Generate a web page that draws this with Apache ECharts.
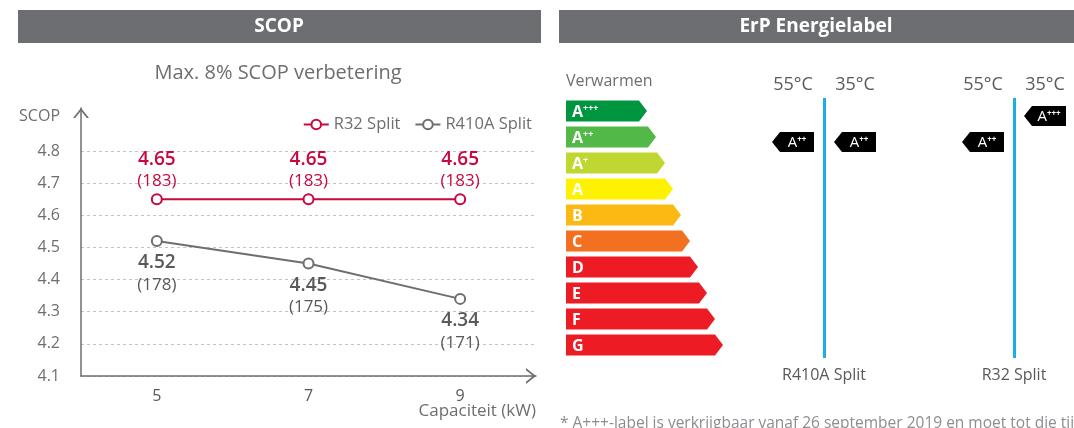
<!DOCTYPE html>
<html>
<head>
<meta charset="utf-8">
<script src="https://cdn.jsdelivr.net/npm/echarts@6/dist/echarts.min.js"></script>
<style>
  html, body { margin: 0; padding: 0; background: #fff; }
  #chart { width: 1074px; height: 428px; }
</style>
</head>
<body>
<div id="chart"></div>
<script>
// SCOP chart data
const capacities = ['5', '7', '9'];
const scopR32 = [4.65, 4.65, 4.65];
const etaR32 = [183, 183, 183];
const scopR410A = [4.52, 4.45, 4.34];
const etaR410A = [178, 175, 171];
const scopTicks = [4.1, 4.2, 4.3, 4.4, 4.5, 4.6, 4.7, 4.8];

// energy label data
const energyClasses = ['A+++', 'A++', 'A+', 'A', 'B', 'C', 'D', 'E', 'F', 'G'];
const arrowLengths = [81, 90, 99, 107, 115, 124, 132, 141, 149, 157];
const products = ['R410A Split', 'R32 Split'];
const temps = ['55°C', '35°C'];
const ratingR410A = ['A++', 'A++'];
const ratingR32 = ['A++', 'A+++'];

const classColors = ['#009640', '#52b848', '#bfd730', '#fff200', '#fdb913',
  '#f37021', '#ed1c24', '#ed1c24', '#ed1c24', '#ed1c24'];

const FONT = '"Open Sans", "Noto Sans", sans-serif';
const GRAY = '#6d6e71';
const DARK = '#58595b';
const RED = '#c8083e';
const BLUE = '#1aaee6';
const CHEVRON = 'path://M8,0 L16,10 L13.8,10 L8,2.8 L2.2,10 L0,10 Z';

const chart = echarts.init(document.getElementById('chart'));

const classText = c => c.length > 1 ? '{a|' + c[0] + '}{s|' + c.slice(1) + '}' : '{a|' + c + '}';

const tagData = [];
[ratingR410A, ratingR32].forEach((ratings, p) => {
  ratings.forEach((r, t) => tagData.push([p, energyClasses.indexOf(r), t]));
});

const option = {
  animation: false,
  textStyle: { fontFamily: FONT },
  graphic: [
    { type: 'rect', shape: { x: 18, y: 10, width: 523, height: 33 }, style: { fill: GRAY } },
    { type: 'text', style: { x: 279, y: 27, text: 'SCOP', fill: '#fff', font: 'bold 19px ' + FONT, align: 'center', verticalAlign: 'middle', textAlign: 'center', textVerticalAlign: 'middle' } },
    { type: 'rect', shape: { x: 559, y: 10, width: 515, height: 33 }, style: { fill: GRAY } },
    { type: 'text', style: { x: 816, y: 27, text: 'ErP Energielabel', fill: '#fff', font: 'bold 19px ' + FONT, align: 'center', verticalAlign: 'middle', textAlign: 'center', textVerticalAlign: 'middle' } },
    { type: 'text', style: { x: 278, y: 73, text: 'Max. 8% SCOP verbetering', fill: GRAY, font: '20px ' + FONT, align: 'center', verticalAlign: 'middle', textAlign: 'center', textVerticalAlign: 'middle' } },
    { type: 'text', style: { x: 566, y: 81, text: 'Verwarmen', fill: GRAY, font: '16px ' + FONT, align: 'left', verticalAlign: 'middle', textAlign: 'left', textVerticalAlign: 'middle' } },
    { type: 'text', style: { x: 560, y: 416, text: '* A+++-label is verkrijgbaar vanaf 26 september 2019 en moet tot die tijd', fill: '#8c8d90', font: '15.5px ' + FONT, align: 'left', verticalAlign: 'top', textAlign: 'left', textVerticalAlign: 'top' } }
  ],
  legend: {
    right: 537,
    top: 111,
    itemWidth: 25,
    itemHeight: 12,
    itemGap: 14,
    selectedMode: false,
    textStyle: { fontSize: 16.5, color: GRAY },
    data: ['R32 Split', 'R410A Split']
  },
  grid: [
    { left: 81, right: 538, top: 108, bottom: 52 },
    { left: 566, top: 98, width: 200, height: 260 },
    { left: 824, top: 98, width: 190, height: 260 }
  ],
  xAxis: [
    {
      gridIndex: 0,
      type: 'category',
      data: capacities,
      name: 'Capaciteit (kW)',
      nameLocation: 'end',
      nameGap: 0,
      nameMoveOverlap: false,
      nameTextStyle: { fontSize: 17, color: GRAY, align: 'right', verticalAlign: 'top', padding: [27, 0, 0, 0] },
      axisLine: {
        lineStyle: { color: GRAY, width: 1.5 },
        symbol: ['none', CHEVRON],
        symbolSize: [16, 10],
        symbolOffset: [0, -5]
      },
      axisTick: { show: false },
      axisLabel: { fontSize: 16, color: DARK, margin: 12 }
    },
    { gridIndex: 1, type: 'value', min: 0, max: 200, show: false },
    {
      gridIndex: 2,
      type: 'category',
      data: products,
      boundaryGap: false,
      axisLine: { show: false },
      axisTick: { show: false },
      splitLine: { show: true, lineStyle: { color: BLUE, width: 3 } },
      axisLabel: { fontSize: 16, color: DARK, margin: 9 }
    }
  ],
  yAxis: [
    {
      gridIndex: 0,
      type: 'value',
      min: 4.1,
      max: 4.934,
      name: 'SCOP',
      nameLocation: 'end',
      nameGap: 0,
      nameMoveOverlap: false,
      nameTextStyle: { fontSize: 16, color: GRAY, align: 'right', verticalAlign: 'top', padding: [0, 21, 0, 0] },
      axisLine: {
        show: true,
        lineStyle: { color: GRAY, width: 1.5 },
        symbol: ['none', CHEVRON],
        symbolSize: [18, 10],
        symbolOffset: [0, -5]
      },
      axisTick: { show: false, customValues: scopTicks },
      axisLabel: {
        customValues: scopTicks,
        fontSize: 16,
        color: GRAY,
        margin: 21,
        formatter: v => v.toFixed(1)
      },
      splitLine: { show: true, lineStyle: { color: '#c4c4c4', type: [3, 3], width: 1 } }
    },
    { gridIndex: 1, type: 'category', data: energyClasses, inverse: true, show: false },
    { gridIndex: 2, type: 'category', data: energyClasses, inverse: true, show: false }
  ],
  series: [
    {
      name: 'R32 Split',
      type: 'line',
      xAxisIndex: 0,
      yAxisIndex: 0,
      data: scopR32,
      symbol: 'emptyCircle',
      symbolSize: 10,
      z: 3,
      lineStyle: { color: RED, width: 2 },
      itemStyle: { color: RED, borderWidth: 2.5 },
      label: {
        show: true,
        position: 'top',
        distance: 1,
        formatter: p => '{v|' + p.value.toFixed(2) + '}\n{p|(' + etaR32[p.dataIndex] + ')}',
        rich: {
          v: { fontSize: 19, fontWeight: 600, color: RED, lineHeight: 22, fontFamily: FONT },
          p: { fontSize: 17, color: RED, lineHeight: 22, fontFamily: FONT }
        }
      }
    },
    {
      name: 'R410A Split',
      type: 'line',
      xAxisIndex: 0,
      yAxisIndex: 0,
      data: scopR410A,
      symbol: 'emptyCircle',
      symbolSize: 10,
      lineStyle: { color: GRAY, width: 2 },
      itemStyle: { color: GRAY, borderWidth: 2.5 },
      label: {
        show: true,
        position: 'bottom',
        distance: 5,
        formatter: p => '{v|' + p.value.toFixed(2) + '}\n{p|(' + etaR410A[p.dataIndex] + ')}',
        rich: {
          v: { fontSize: 19, fontWeight: 600, color: DARK, lineHeight: 22, fontFamily: FONT },
          p: { fontSize: 17, color: DARK, lineHeight: 22, fontFamily: FONT }
        }
      }
    },
    {
      name: 'classes',
      type: 'custom',
      xAxisIndex: 1,
      yAxisIndex: 1,
      clip: false,
      data: energyClasses.map((c, i) => [arrowLengths[i], i]),
      renderItem: (params, api) => {
        const len = api.value(0);
        const idx = api.value(1);
        const start = api.coord([0, idx]);
        const end = api.coord([len, idx]);
        const h = api.size([0, 1])[1] * 0.81;
        const tip = 8;
        const top = start[1] - h / 2;
        const bot = start[1] + h / 2;
        return {
          type: 'group',
          children: [
            {
              type: 'polygon',
              shape: { points: [[start[0], top], [end[0] - tip, top], [end[0], start[1]], [end[0] - tip, bot], [start[0], bot]] },
              style: { fill: classColors[idx] }
            },
            {
              type: 'text',
              style: {
                x: start[0] + 6,
                y: start[1] + 1,
                text: classText(energyClasses[idx]),
                align: 'left',
                verticalAlign: 'middle',
                rich: {
                  a: { fontSize: 16, fontWeight: 'bold', fill: '#fff', fontFamily: FONT },
                  s: { fontSize: 9, fontWeight: 'bold', fill: '#fff', verticalAlign: 'top', fontFamily: FONT }
                }
              }
            }
          ]
        };
      }
    },
    {
      name: 'tags',
      type: 'custom',
      xAxisIndex: 2,
      yAxisIndex: 2,
      clip: false,
      data: tagData,
      renderItem: (params, api) => {
        const p = api.value(0);
        const cls = api.value(1);
        const t = api.value(2);
        const pt = api.coord([p, cls]);
        const band = api.size([0, 1])[1];
        const gridTop = api.coord([p, 0])[1] - band / 2;
        const w = 42, h = 20, tip = 8, gap = 10;
        const cy = pt[1] + 5;
        const left = t === 0 ? pt[0] - gap - w : pt[0] + gap;
        const right = left + w;
        return {
          type: 'group',
          children: [
            {
              type: 'polygon',
              shape: { points: [[left, cy], [left + tip, cy - h / 2], [right, cy - h / 2], [right, cy + h / 2], [left + tip, cy + h / 2]] },
              style: { fill: '#000' }
            },
            {
              type: 'text',
              style: {
                x: (left + tip + right) / 2,
                y: cy + 1,
                text: classText(energyClasses[cls]),
                align: 'center',
                verticalAlign: 'middle',
                rich: {
                  a: { fontSize: 15, fill: '#fff', fontFamily: FONT },
                  s: { fontSize: 8, fontWeight: 'bold', fill: '#fff', verticalAlign: 'top', fontFamily: FONT }
                }
              }
            },
            {
              type: 'text',
              style: {
                x: (left + right) / 2,
                y: gridTop - 13,
                text: temps[t],
                fill: DARK,
                font: '500 18px ' + FONT,
                align: 'center',
                verticalAlign: 'middle'
              }
            }
          ]
        };
      }
    }
  ]
};

chart.setOption(option);
</script>
</body>
</html>
